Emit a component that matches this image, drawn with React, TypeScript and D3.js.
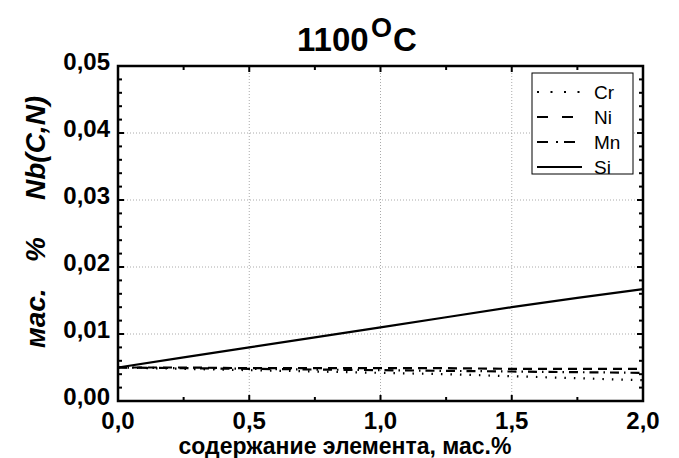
import React from "react";
import * as d3 from "d3";

const width = 679;
const height = 458;
const margin = { top: 66, right: 36, bottom: 57, left: 118 };

const xValues = [0, 0.25, 0.5, 0.75, 1.0, 1.25, 1.5, 1.75, 2.0];
const crValues = [0.005, 0.0048, 0.0046, 0.0044, 0.0042, 0.0040, 0.0037, 0.0034, 0.0031];
const niValues = [0.005, 0.005, 0.0049, 0.0049, 0.0049, 0.0049, 0.0048, 0.0048, 0.0048];
const mnValues = [0.005, 0.0049, 0.0048, 0.0047, 0.0046, 0.0045, 0.0044, 0.0043, 0.0042];
const siValues = [0.005, 0.0065, 0.0080, 0.0095, 0.0110, 0.0125, 0.0140, 0.0154, 0.0167];

const xTicks = [0, 0.5, 1.0, 1.5, 2.0];
const yTicks = [0, 0.01, 0.02, 0.03, 0.04, 0.05];

const seriesNames = ["Cr", "Ni", "Mn", "Si"];
const seriesData = [crValues, niValues, mnValues, siValues];
const dashes = ["1.5,8", "9,6", "9,5,1.5,5", ""];
const legendDashes = ["2,11.5", "11,14", "11,8,2,6", ""];

const fmt = (v: number, d: number) => v.toFixed(d).replace(".", ",");

export default function App() {
  const x = d3
    .scaleLinear()
    .domain([0, 2])
    .range([margin.left, width - margin.right]);
  const y = d3
    .scaleLinear()
    .domain([0, 0.05])
    .range([height - margin.bottom, margin.top]);

  const line = d3
    .line<number>()
    .x((d, i) => x(xValues[i]))
    .y((d) => y(d));

  const xMinor = d3.range(0, 2.0001, 0.25);
  const yMinor = d3.range(0, 0.05001, 0.002);
  const font = "'Liberation Sans', Arial, sans-serif";
  const x0 = x(0), x1 = x(2), y0 = y(0), y1 = y(0.05);

  return (
    <svg
      width={width}
      height={height}
      style={{ position: "absolute", left: 0, top: 0, background: "#fff" }}
      fontFamily={font}
    >
      {/* grid */}
      {xTicks.slice(1, -1).map((t) => (
        <line key={"gx" + t} x1={x(t)} x2={x(t)} y1={y0} y2={y1}
          stroke="#aaa" strokeWidth={1} strokeDasharray="1,2" />
      ))}
      {yTicks.slice(1, -1).map((t) => (
        <line key={"gy" + t} x1={x0} x2={x1} y1={y(t)} y2={y(t)}
          stroke="#aaa" strokeWidth={1} strokeDasharray="1,2" />
      ))}

      {/* series */}
      {seriesData.map((vals, i) => (
        <path key={seriesNames[i]} d={line(vals) || ""} fill="none" stroke="#000"
          strokeWidth={2.2} strokeDasharray={dashes[i] || undefined} />
      ))}

      {/* ticks */}
      {xMinor.map((t, i) => {
        const len = i % 2 === 0 ? 6 : 4;
        return (
          <g key={"tx" + i}>
            <line x1={x(t)} x2={x(t)} y1={y0} y2={y0 - len} stroke="#000" strokeWidth={2} />
            <line x1={x(t)} x2={x(t)} y1={y1} y2={y1 + len} stroke="#000" strokeWidth={2} />
          </g>
        );
      })}
      {yMinor.map((t, i) => {
        const len = i % 5 === 0 ? 6 : 4;
        return (
          <g key={"ty" + i}>
            <line x1={x0} x2={x0 + len} y1={y(t)} y2={y(t)} stroke="#000" strokeWidth={2} />
            <line x1={x1} x2={x1 - len} y1={y(t)} y2={y(t)} stroke="#000" strokeWidth={2} />
          </g>
        );
      })}

      {/* frame */}
      <rect x={x0} y={y1} width={x1 - x0} height={y0 - y1} fill="none" stroke="#000" strokeWidth={2.5} />

      {/* tick labels */}
      {xTicks.map((t) => (
        <text key={"lx" + t} x={x(t)} y={y0 + 28} textAnchor="middle"
          fontSize={24} fontWeight="bold">{fmt(t, 1)}</text>
      ))}
      {yTicks.map((t) => (
        <text key={"ly" + t} x={x0 - 8} y={y(t) + 4} textAnchor="end"
          fontSize={24} fontWeight="bold">{fmt(t, 2)}</text>
      ))}

      {/* title */}
      <text x={297} y={51} fontSize={33} fontWeight="bold">
        1100
        <tspan x={371} y={37} fontSize={27}>O</tspan>
        <tspan x={393} y={51}>C</tspan>
      </text>

      {/* axis labels */}
      <text x={345} y={454} textAnchor="middle" fontSize={23} fontWeight="bold">
        содержание элемента, мас.%
      </text>
      <text transform={`translate(45,348) rotate(-90)`} fontSize={28}
        fontWeight="bold" fontStyle="italic">
        <tspan x={0}>мас.</tspan>
        <tspan x={86}>%</tspan>
        <tspan x={148}>Nb(C,N)</tspan>
      </text>

      {/* legend */}
      <rect x={532} y={73} width={101} height={101} fill="#fff" stroke="#000" strokeWidth={1} />
      {seriesNames.map((name, i) => {
        const ly = 92 + i * 25;
        return (
          <g key={"lg" + name}>
            <line x1={537} x2={582} y1={ly} y2={ly} stroke="#000" strokeWidth={2}
              strokeDasharray={legendDashes[i] || undefined} />
            <text x={594} y={ly + 7} fontSize={19}>{name}</text>
          </g>
        );
      })}
    </svg>
  );
}
